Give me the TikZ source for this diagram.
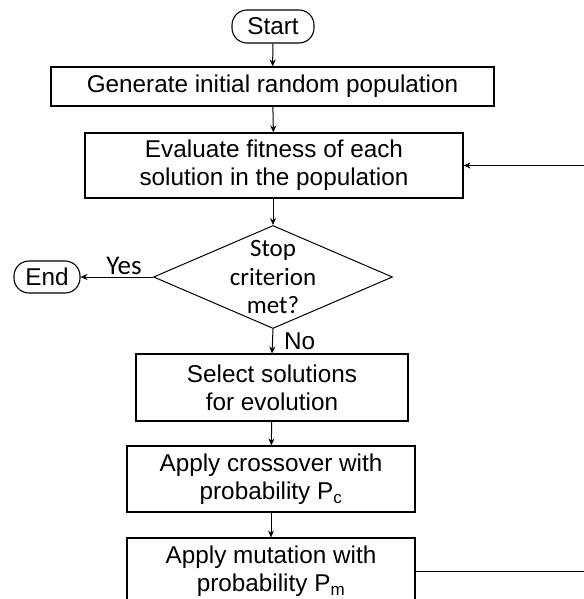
\documentclass[tikz,border=0pt]{standalone}
\usepackage{fontspec}
\setmainfont{Liberation Sans}
\newfontfamily\calfont{Carlito}
\usetikzlibrary{arrows.meta,shapes.geometric}

\begin{document}
\begin{tikzpicture}[x=1pt,y=-1pt,>={Stealth[length=7pt,width=6pt]},
		box/.style={draw,line width=1.1pt,inner sep=0pt,align=center,
			font=\fontsize{24.3}{28}\selectfont},
		term/.style={box,rounded corners=15pt},
		flow/.style={->,line width=1pt}]
			\useasboundingbox (0,0) rectangle (583,599);
			\node[term,minimum width=82,minimum height=33] (start) at (273,26.5) {Start};
			\node[box,minimum width=443,minimum height=39] (gen) at (272.5,86.5) {Generate initial random population};
			\node[box,minimum width=378,minimum height=65] (eval) at (274,165.5) {Evaluate fitness of each\\solution in the population};
			\node[draw,diamond,line width=1pt,inner sep=0pt,minimum width=239,minimum height=103] (stop) at (273,277) {};
			\node[align=center,font=\calfont\fontsize{25}{28.5}\selectfont] (stoptext) at (stop) {Stop\\criterion\\met?};
			\node[term,minimum width=66,minimum height=32] (end) at (47,277) {End};
			\node[box,minimum width=272,minimum height=67] (sel) at (272,387.5) {Select solutions\\for evolution};
			\node[box,minimum width=288,minimum height=66] (cross) at (271,479) {Apply crossover with\\probability P\textsubscript{c}};
			\node[box,minimum width=288,minimum height=66] (mut) at (271,571) {Apply mutation with\\probability P\textsubscript{m}};
			\coordinate (back) at (600,370);
			\draw[flow] (start) -- (gen);
			\draw[flow] (gen) -- (eval);
			\draw[flow] (eval.south -| stop.north) -- (stop.north);
			\draw[flow] (stop.west) -- node[pos=.4,above,inner sep=2pt,font=\calfont\fontsize{27}{28}\selectfont] (yes) {Yes} (end.east);
			\draw[flow] (stop.south) -- node[midway,right,xshift=11pt,inner sep=0pt,font=\fontsize{24.3}{28}\selectfont] (no) {No} (sel.north);
			\draw[flow] (sel) -- (cross);
			\draw[flow] (cross) -- (mut);
			\draw[flow] (mut.east) -| (back) |- (eval.east);
		\end{tikzpicture}
\end{document}
